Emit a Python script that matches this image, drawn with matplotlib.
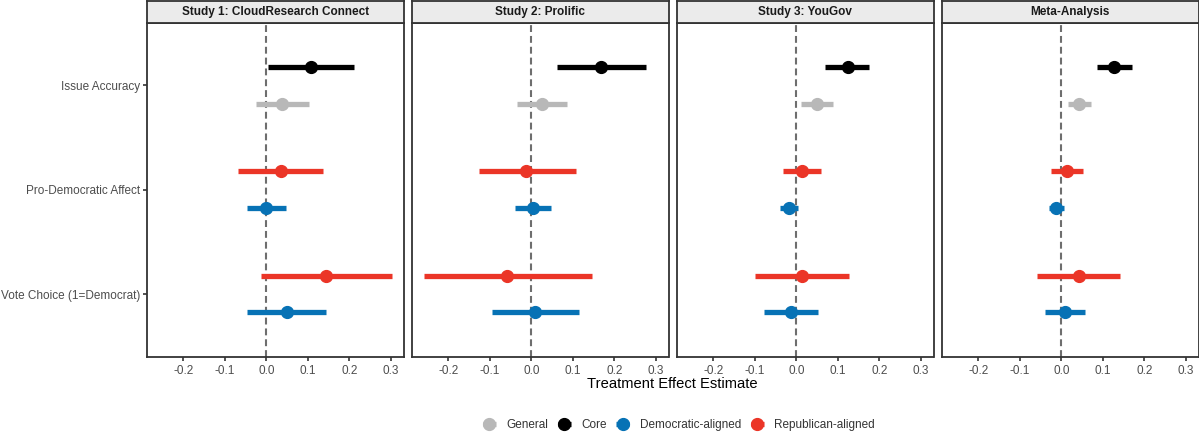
import matplotlib
matplotlib.use("Agg")
import matplotlib.pyplot as plt
from matplotlib.lines import Line2D
import numpy as np

plt.rcParams['font.family'] = ['Liberation Sans', 'DejaVu Sans']

panels = ["Study 1: CloudResearch Connect", "Study 2: Prolific", "Study 3: YouGov", "Meta-Analysis"]
outcomes = ["Issue Accuracy", "Pro-Democratic Affect", "Vote Choice (1=Democrat)"]
groups = ["General", "Core", "Democratic-aligned", "Republican-aligned"]
colors = {"General": "#B8B8B8", "Core": "#000000",
          "Democratic-aligned": "#0772B5", "Republican-aligned": "#EB3527"}

# rows: (outcome, group, estimate, low, high) per panel
study1 = [
    ("Issue Accuracy", "Core", 0.108, 0.005, 0.212),
    ("Issue Accuracy", "General", 0.038, -0.026, 0.103),
    ("Pro-Democratic Affect", "Republican-aligned", 0.036, -0.067, 0.137),
    ("Pro-Democratic Affect", "Democratic-aligned", 0.000, -0.046, 0.048),
    ("Vote Choice (1=Democrat)", "Republican-aligned", 0.144, -0.012, 0.303),
    ("Vote Choice (1=Democrat)", "Democratic-aligned", 0.050, -0.046, 0.144),
]
study2 = [
    ("Issue Accuracy", "Core", 0.168, 0.062, 0.275),
    ("Issue Accuracy", "General", 0.026, -0.034, 0.086),
    ("Pro-Democratic Affect", "Republican-aligned", -0.012, -0.127, 0.107),
    ("Pro-Democratic Affect", "Democratic-aligned", 0.004, -0.040, 0.048),
    ("Vote Choice (1=Democrat)", "Republican-aligned", -0.058, -0.258, 0.145),
    ("Vote Choice (1=Democrat)", "Democratic-aligned", 0.010, -0.095, 0.114),
]
study3 = [
    ("Issue Accuracy", "Core", 0.124, 0.068, 0.176),
    ("Issue Accuracy", "General", 0.050, 0.012, 0.088),
    ("Pro-Democratic Affect", "Republican-aligned", 0.014, -0.031, 0.059),
    ("Pro-Democratic Affect", "Democratic-aligned", -0.018, -0.040, 0.004),
    ("Vote Choice (1=Democrat)", "Republican-aligned", 0.014, -0.099, 0.126),
    ("Vote Choice (1=Democrat)", "Democratic-aligned", -0.013, -0.077, 0.053),
]
meta = [
    ("Issue Accuracy", "Core", 0.127, 0.085, 0.171),
    ("Issue Accuracy", "General", 0.042, 0.015, 0.071),
    ("Pro-Democratic Affect", "Republican-aligned", 0.014, -0.024, 0.053),
    ("Pro-Democratic Affect", "Democratic-aligned", -0.012, -0.030, 0.006),
    ("Vote Choice (1=Democrat)", "Republican-aligned", 0.042, -0.058, 0.142),
    ("Vote Choice (1=Democrat)", "Democratic-aligned", 0.008, -0.040, 0.057),
]
panel_data = [study1, study2, study3, meta]

xticks = [-0.2, -0.1, 0.0, 0.1, 0.2, 0.3]
xticklabels = ["-0.2", "-0.1", "0.0", "0.1", "0.2", "0.3"]

W, H = 1199, 433
fig = plt.figure(figsize=(W / 100, H / 100), dpi=100)

lefts = [147, 412, 677, 942]
pw = 256.5
top_px, bot_px = 22.7, 356.7
strip_top = 1.0

ypos = {o: 3 - i for i, o in enumerate(outcomes)}
upper = {"Core", "Republican-aligned"}
dodge = 0.175

for k, (name, rows) in enumerate(zip(panels, panel_data)):
    l = lefts[k]
    ax = fig.add_axes([l / W, 1 - bot_px / H, pw / W, (bot_px - top_px) / H])
    ax.axvline(0, color="#6E6E6E", lw=1.5, ls=(0, (3.3, 1.9)), zorder=1)
    for (o, g, est, lo, hi) in rows:
        y = ypos[o] + (dodge if g in upper else -dodge)
        ax.plot([lo, hi], [y, y], color=colors[g], lw=3.8, solid_capstyle="butt", zorder=2)
        ax.plot([est], [y], "o", color=colors[g], ms=8.5, zorder=3)
    ax.set_xlim(-0.287, 0.330)
    ax.set_ylim(0.4, 3.6)
    ax.set_xticks(xticks)
    ax.set_xticklabels(xticklabels)
    ax.tick_params(axis="x", length=3, width=1.2, color="#333333", labelsize=8.5,
                   labelcolor="#4D4D4D", pad=3)
    if k == 0:
        ax.set_yticks([ypos[o] for o in outcomes])
        ax.set_yticklabels(outcomes)
        ax.tick_params(axis="y", length=3, width=1.2, color="#333333", labelsize=8.5,
                       labelcolor="#4D4D4D", pad=2)
    else:
        ax.set_yticks([])
    for s in ax.spines.values():
        s.set_linewidth(1.3)
        s.set_color("#333333")
    # strip
    sax = fig.add_axes([l / W, 1 - top_px / H, pw / W, (top_px - strip_top) / H])
    sax.set_facecolor("#EBEBEB")
    sax.set_xticks([])
    sax.set_yticks([])
    for s in sax.spines.values():
        s.set_linewidth(1.3)
        s.set_color("#333333")
    sax.text(0.5, 0.5, name, transform=sax.transAxes, ha="center", va="center",
             fontsize=8.5, fontweight="bold", color="#1A1A1A")

fig.text(672 / W, 1 - 384 / H, "Treatment Effect Estimate", ha="center", va="center",
         fontsize=10.6, color="#000000")

handles = [Line2D([0], [0], color=colors[g], lw=3.8, marker="o", ms=8.5,
                  solid_capstyle="butt") for g in groups]
leg = fig.legend(handles, groups, loc="center", bbox_to_anchor=(679 / W, 1 - 425 / H),
                 ncol=4, frameon=False, fontsize=8.5, handlelength=1.1, handletextpad=0.9,
                 columnspacing=0.8)
for t in leg.get_texts():
    t.set_color("#333333")

fig.savefig("out.png", dpi=100)
